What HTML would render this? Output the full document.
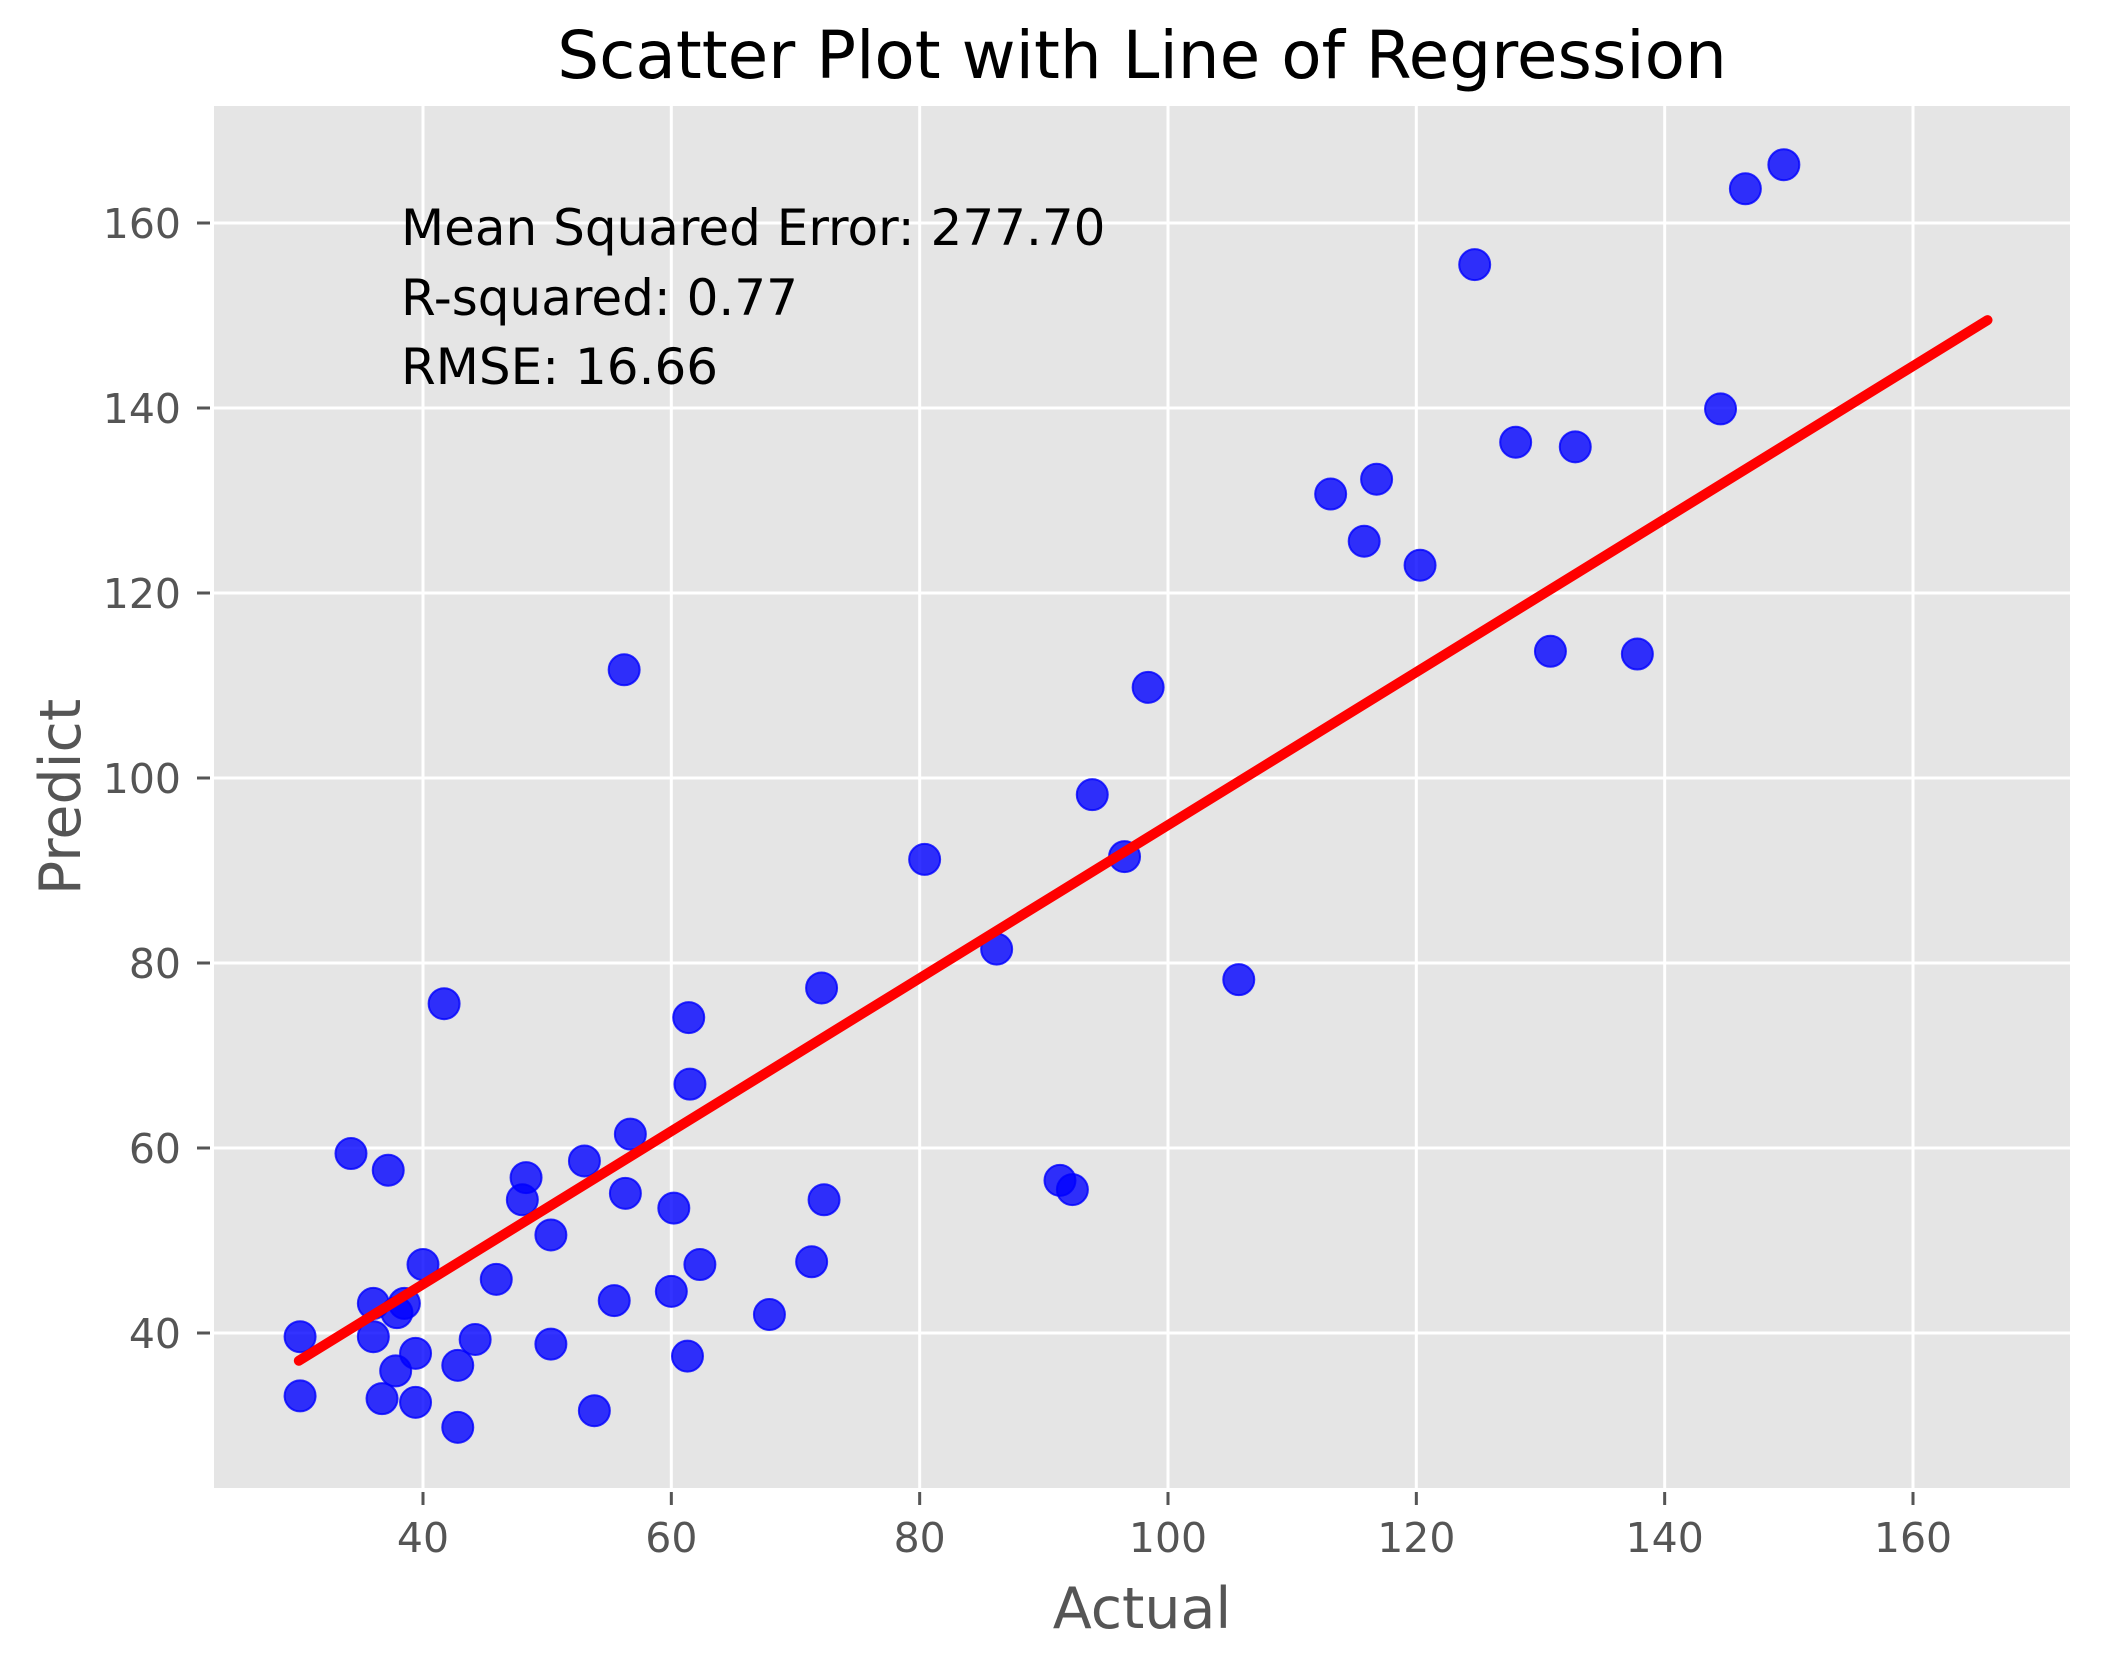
<!DOCTYPE html>
<html><head><meta charset="utf-8"><style>
html,body{margin:0;padding:0;background:#fff;}
svg{display:block;font-family:"DejaVu Sans","Liberation Sans",sans-serif;}
</style></head><body>
<svg id="chart" width="2102" height="1663" viewBox="0 0 2102 1663" xmlns="http://www.w3.org/2000/svg">
<rect x="0" y="0" width="2102" height="1663" fill="#ffffff"/>
<rect x="214" y="106" width="1856" height="1382" fill="#E5E5E5"/>
<g id="grid"></g>
<g id="ticks"></g>
<g id="points"></g>
<g id="regline"></g>
<text x="1142" y="78" text-anchor="middle" font-size="66" fill="#000">Scatter Plot with Line of Regression</text>
<text x="1142" y="1628" text-anchor="middle" font-size="57" fill="#555555">Actual</text>
<text x="0" y="0" transform="translate(80,797) rotate(-90)" text-anchor="middle" font-size="57" fill="#555555">Predict</text>
<text x="401" y="245" font-size="50" fill="#000">Mean Squared Error: 277.70</text>
<text x="401" y="315" font-size="50" fill="#000">R-squared: 0.77</text>
<text x="401" y="384" font-size="50" fill="#000">RMSE: 16.66</text>
</svg>
<script>
const xTicks = [40, 60, 80, 100, 120, 140, 160];
const yTicks = [40, 60, 80, 100, 120, 140, 160];
const actualValues = [149.6,146.5,124.7,144.5,128.0,132.8,116.8,113.1,115.8,120.3,130.8,137.8,56.2,98.4,93.9,80.4,96.5,86.2,105.7,41.7,72.1,61.4,61.5,56.7,34.2,37.2,53.0,48.3,48.0,56.3,60.2,72.3,91.3,92.3,50.3,40.0,62.3,71.3,45.9,36.0,38.5,37.9,55.4,60.0,67.9,30.1,36.0,44.2,50.3,39.4,42.8,61.3,37.8,30.1,36.7,39.4,53.8,42.8];
const predictValues = [166.3,163.7,155.5,139.9,136.3,135.8,132.3,130.7,125.6,123.0,113.7,113.4,111.7,109.8,98.2,91.2,91.5,81.5,78.2,75.6,77.3,74.1,66.9,61.5,59.4,57.6,58.6,56.8,54.4,55.1,53.5,54.4,56.5,55.5,50.6,47.4,47.4,47.7,45.8,43.2,43.2,42.2,43.5,44.5,42.0,39.6,39.6,39.3,38.8,37.8,36.5,37.5,35.9,33.2,32.9,32.5,31.6,29.8];
const regLineX = [30, 166];
const regLineY = [37.0, 149.5];

const NS = "http://www.w3.org/2000/svg";
const X0 = 214, X1 = 2070, Y0 = 106, Y1 = 1488;
function xs(v){ return 423 + (v - 40) * (1913 - 423) / 120; }
function ys(v){ return 1333 - (v - 40) * (1333 - 223) / 120; }
function mk(tag, attrs, parent){ const e = document.createElementNS(NS, tag); for (const k in attrs) e.setAttribute(k, attrs[k]); parent.appendChild(e); return e; }

const grid = document.getElementById('grid');
const ticks = document.getElementById('ticks');
xTicks.forEach(t => {
  const x = xs(t);
  const g = mk('line', {x1:x, x2:x, y1:Y0, y2:Y1, stroke:'#ffffff', 'stroke-width':3}, grid);
  
  
  const tk = mk('line', {x1:x, x2:x, y1:Y1+4, y2:Y1+17, stroke:'#555555', 'stroke-width':3}, ticks);
  
  
  const lb = mk('text', {x:x, y:1552, 'text-anchor':'middle', 'font-size':41, fill:'#555555'}, ticks);
  lb.textContent = t;
  
  
});
yTicks.forEach(t => {
  const y = ys(t);
  const g = mk('line', {x1:X0, x2:X1, y1:y, y2:y, stroke:'#ffffff', 'stroke-width':3}, grid);
  
  
  const tk = mk('line', {x1:X0-17, x2:X0-4, y1:y, y2:y, stroke:'#555555', 'stroke-width':3}, ticks);
  
  
  const lb = mk('text', {x:181, y:y+15, 'text-anchor':'end', 'font-size':41, fill:'#555555'}, ticks);
  lb.textContent = t;
  
  
});

const pts = document.getElementById('points');
actualValues.forEach((a, i) => {
  const c = mk('circle', {cx:xs(a), cy:ys(predictValues[i]), r:15.5, fill:'#0000ff', 'fill-opacity':0.8, stroke:'#0000ff', 'stroke-opacity':0.8, 'stroke-width':2}, pts);
  
  
});

const rl = document.getElementById('regline');
const ln = mk('line', {x1:xs(regLineX[0]), y1:ys(regLineY[0]), x2:xs(regLineX[1]), y2:ys(regLineY[1]), stroke:'#ff0000', 'stroke-width':10, 'stroke-linecap':'round'}, rl);


</script>
</body></html>
